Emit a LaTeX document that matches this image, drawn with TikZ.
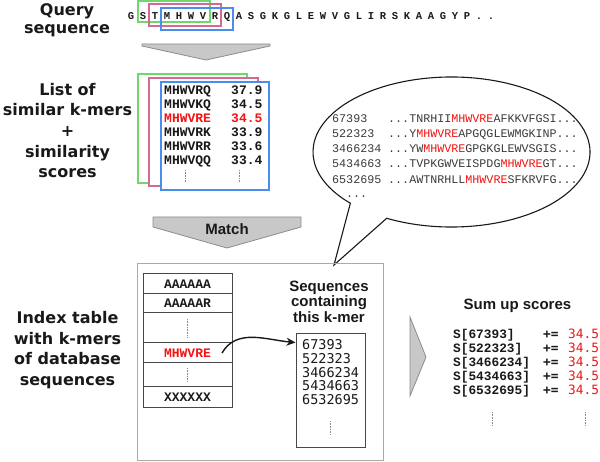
\documentclass[tikz,border=0pt]{standalone}
\usepackage{fontspec}
\newfontfamily\labelfont{DejaVu Sans}
\newfontfamily\headfont{Liberation Sans}
\newfontfamily\seqfont{Liberation Mono}
\newfontfamily\numfont{DejaVu Sans Mono}
\usepackage{tikz}
\usetikzlibrary{arrows.meta,positioning}
\definecolor{kgreen}{RGB}{110,215,110}
\definecolor{kpink}{RGB}{215,105,145}
\definecolor{kblue}{RGB}{75,140,240}
\definecolor{hitred}{RGB}{240,20,20}
\definecolor{arrowgray}{RGB}{200,200,200}
\definecolor{edgegray}{RGB}{140,140,140}
\definecolor{framegray}{RGB}{170,170,170}
\definecolor{ink}{RGB}{25,25,25}

\begin{document}
\begin{tikzpicture}[x=1pt, y=-1pt,
    steplabel/.style={font=\labelfont\bfseries\fontsize{16}{20.7}\selectfont,
      align=center, text=ink},
    stephead/.style={font=\headfont\bfseries\fontsize{15}{15.5}\selectfont,
      align=center, text=ink},
    kbox/.style={line width=1.2pt},
    bigarrow/.style={fill=arrowgray, draw=edgegray, line width=0.8pt},
    qres/.style={font=\seqfont\bfseries\fontsize{10.5}{10.5}\selectfont,
      anchor=base, inner sep=0pt, text=ink},
    kmer/.style={font=\seqfont\bfseries\fontsize{13}{13}\selectfont,
      anchor=base west, inner sep=0pt, text=ink},
    dbseq/.style={font=\seqfont\fontsize{11.7}{11.7}\selectfont,
      anchor=base west, inner sep=0pt, text=ink!85},
    idxrow/.style={draw=ink!80, line width=1pt, minimum width=89pt,
      outer sep=0pt, inner sep=0pt, text=ink,
      font=\seqfont\bfseries\fontsize{13}{13}\selectfont},
    hitnum/.style={font=\numfont\fontsize{13.5}{13.5}\selectfont,
      anchor=base west, inner sep=0pt, text=ink},
    sumrow/.style={font=\seqfont\bfseries\fontsize{12.8}{12.8}\selectfont,
      anchor=base west, inner sep=0pt, text=ink},
    vdots/.style={densely dotted, draw=edgegray, line width=0.6pt},
    bubble/.style={draw=ink, line width=1.1pt, fill=white}
  ]
  \useasboundingbox (0,0) rectangle (600,462);

  % query
  \node[steplabel, font=\labelfont\bfseries\fontsize{16}{17.5}\selectfont]
    (qlabel) at (67,20) {Query\\sequence};
  \foreach \a [count=\i] in {G,S,T,M,H,W,V,R,Q,A,S,G,K,G,L,E,W,V,G,L,I,R,S,K,A,A,G,Y,P,.,.}
    \node[qres] (q\i) at ({131+12*(\i-1)},19.5) {\a};
  \draw[kbox, kgreen] (138,1) rectangle (210,22);
  \draw[kbox, kpink] (149,4) rectangle (221,26);
  \draw[kbox, kblue] (161,8) rectangle (233,30);
  \draw[bigarrow] (142,44) -- (270,44) -- (270,46) -- (206,60) -- (142,46) -- cycle;

  % similar k-mers
  \node[steplabel] (llabel) at (67.5,130.5)
    {List of\\similar k-mers\\+\\similarity\\scores};
  \draw[kbox, kgreen, fill=white] (138,74) rectangle (247,183);
  \draw[kbox, kpink, fill=white] (149,78) rectangle (258,186);
  \draw[kbox, kblue, fill=white] (161,82) rectangle (269,190);
  \foreach \k/\s/\c [count=\i] in {MHWVRQ/37.9/ink, MHWVKQ/34.5/ink, MHWVRE/34.5/hitred,
      MHWVRK/33.9/ink, MHWVRR/33.6/ink, MHWVQQ/33.4/ink} {
    \node[kmer, text=\c] (km\i) at (164,{95+13.85*(\i-1)}) {\k};
    \node[kmer, text=\c] (sc\i) at (231,{95+13.85*(\i-1)}) {\s};
  }
  \draw[vdots] (185,170) -- (185,182);
  \draw[vdots] (239,170) -- (239,182);

  \draw[bigarrow] (153,217) -- (301,217) -- (301,227) -- (227,248) -- (153,227) -- cycle;
  \node[stephead] (match) at (227,229) {Match};

  % database hits
  \draw[bubble] (451.5,152) ++(117.9:138.5 and 75)
    arc[start angle=117.9, end angle=-223.1, x radius=138.5, y radius=75]
    -- (334,265) -- cycle;
  \node[dbseq] (id1) at (332,122.1) {67393};
  \node[dbseq] (id2) at (332,137.4) {522323};
  \node[dbseq] (id3) at (332,152.6) {3466234};
  \node[dbseq] (id4) at (332,167.9) {5434663};
  \node[dbseq] (id5) at (332,183.1) {6532695};
  \node[dbseq] (sq1) at (388,122.1) {...TNRHII\textcolor{hitred}{MHWVRE}AFKKVFGSI...};
  \node[dbseq] (sq2) at (388,137.4) {...Y\textcolor{hitred}{MHWVRE}APGQGLEWMGKINP...};
  \node[dbseq] (sq3) at (388,152.6) {...YW\textcolor{hitred}{MHWVRE}GPGKGLEWVSGIS...};
  \node[dbseq] (sq4) at (388,167.9) {...TVPKGWVEISPDG\textcolor{hitred}{MHWVRE}GT...};
  \node[dbseq] (sq5) at (388,183.1) {...AWTNRHLL\textcolor{hitred}{MHWVRE}SFKRVFG...};
  \node[dbseq] (more) at (346,198) {...};

  % index table
  \node[draw=framegray, line width=1pt, minimum width=246pt, minimum height=196pt,
    inner sep=0pt] (frame) at (260,362) {};
  \node[steplabel] (ilabel) at (67.5,350)
    {Index table\\with k-mers\\of database\\sequences};
  \node[idxrow, minimum height=20pt] (r1) at (187.5,284) {AAAAAA};
  \node[idxrow, minimum height=19pt, below=0pt of r1] (r2) {AAAAAR};
  \node[idxrow, minimum height=30pt, below=0pt of r2] (r3) {};
  \node[idxrow, minimum height=20pt, below=0pt of r3, text=hitred] (r4) {MHWVRE};
  \node[idxrow, minimum height=24pt, below=0pt of r4] (r5) {};
  \node[idxrow, minimum height=20pt, below=0pt of r5] (r6) {XXXXXX};
  \draw[vdots] ([yshift=-6pt]r3.north) -- ([yshift=6pt]r3.south);
  \draw[vdots] ([yshift=-5pt]r5.north) -- ([yshift=5pt]r5.south);

  \node[stephead] (seqhead) at (329,301.5) {Sequences\\containing\\this k-mer};
  \node[draw=ink!80, line width=1pt, minimum width=69pt, minimum height=113pt,
    inner sep=0pt] (hits) at (330.5,390.5) {};
  \foreach \n [count=\i] in {67393,522323,3466234,5434663,6532695}
    \node[hitnum] (h\i) at (302,{349.6+13.8*(\i-1)}) {\n};
  \draw[vdots] (330,421) -- (330,434);
  \draw[-{Stealth[length=9pt,width=8pt]}, line width=1.4pt, ink]
    ([xshift=-10pt]r4.east) to[out=60,in=175] ([yshift=-9pt]hits.north west);

  % scores
  \draw[bigarrow] (410,317) -- (426,357) -- (410,396) -- cycle;
  \node[stephead] (sumhead) at (517.5,306) {Sum up scores};
  \foreach \n [count=\i] in {67393,522323,3466234,5434663,6532695} {
    \node[sumrow] (s\i) at (453,{338.2+14*(\i-1)}) {S[\n]};
    \node[sumrow, font=\numfont\bfseries\fontsize{12.8}{12.8}\selectfont]
      (p\i) at (543,{338.2+14*(\i-1)}) {+=};
    \node[sumrow, text=hitred, font=\numfont\fontsize{12.8}{12.8}\selectfont]
      (v\i) at (568,{338.2+14*(\i-1)}) {34.5};
  }
  \draw[vdots] (492,412) -- (492,425);
  \draw[vdots] (585,412) -- (585,425);
\end{tikzpicture}
\end{document}
